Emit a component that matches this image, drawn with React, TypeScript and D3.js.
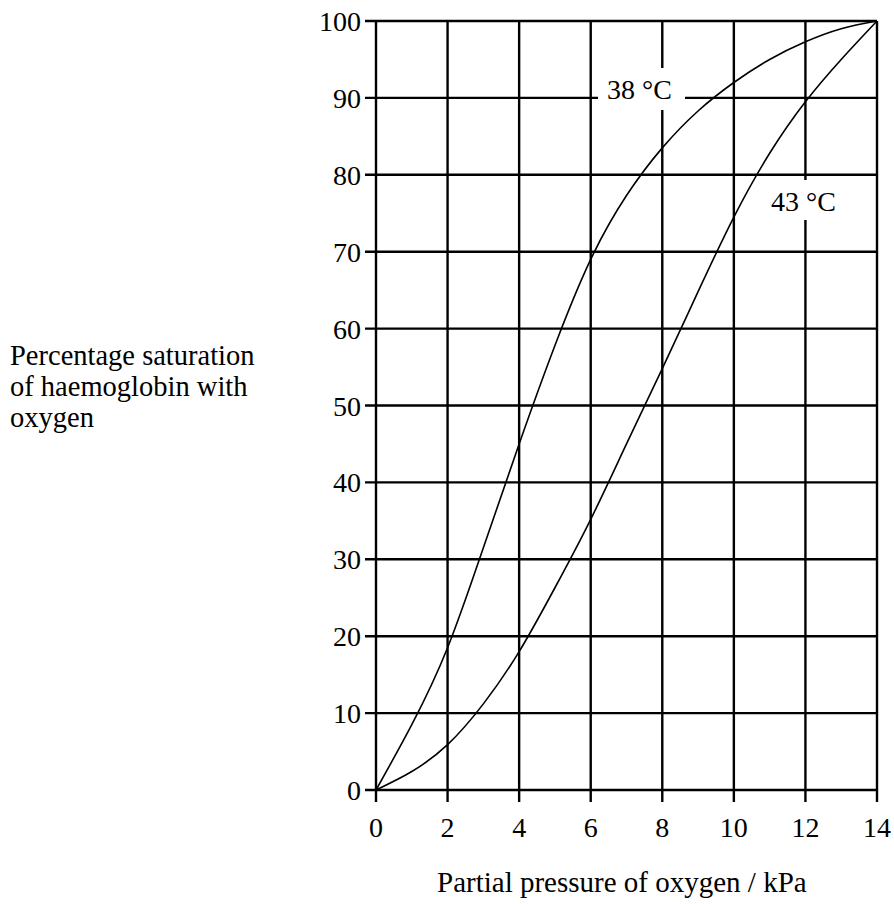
import { useRef, useEffect } from 'react';
import * as d3 from 'd3';

// partial pressure of oxygen (kPa)
const pressure = [0, 1, 2, 3, 4, 5, 6, 7, 8, 9, 10, 11, 12, 13, 14];
// % saturation
const sat38 = [0, 8.5, 18.5, 31.5, 45, 57.8, 69, 77.3, 83.5, 88.3, 92, 95, 97.3, 99, 100];
const sat43 = [0, 2.4, 5.9, 11.2, 18, 26.3, 35.2, 45, 54.8, 64.8, 74.5, 82.8, 89.5, 95, 100];

const xTicks = [0, 2, 4, 6, 8, 10, 12, 14];
const yTicks = [0, 10, 20, 30, 40, 50, 60, 70, 80, 90, 100];

const yLabelLines = ['Percentage saturation', 'of haemoglobin with', 'oxygen'];
const xLabel = 'Partial pressure of oxygen / kPa';

const FONT = '"Liberation Serif", "Times New Roman", serif';

export default function App() {
  const svgRef = useRef<SVGSVGElement>(null);
  const width = 894;
  const height = 904;

  useEffect(() => {
    if (!svgRef.current) return;
    const svg = d3.select(svgRef.current);
    svg.selectAll('*').remove();

    const x = d3.scaleLinear().domain([0, 14]).range([376, 877]);
    const y = d3.scaleLinear().domain([0, 100]).range([790, 21]);

    svg.append('rect').attr('width', width).attr('height', height).attr('fill', '#fff');

    // grid (includes the frame at 0/14 and 0/100), ticks stick out past the axes
    const grid = svg.append('g').attr('stroke', '#000').attr('stroke-width', 2.4);
    grid.selectAll('.v')
      .data(xTicks)
      .join('line')
      .attr('x1', (d) => x(d))
      .attr('x2', (d) => x(d))
      .attr('y1', y(100))
      .attr('y2', y(0) + 12);
    grid.selectAll('.h')
      .data(yTicks)
      .join('line')
      .attr('x1', x(0) - 11)
      .attr('x2', x(14))
      .attr('y1', (d) => y(d))
      .attr('y2', (d) => y(d));

    // tick labels
    svg.append('g')
      .selectAll('text')
      .data(yTicks)
      .join('text')
      .attr('x', x(0) - 15)
      .attr('y', (d) => y(d) + 10)
      .attr('text-anchor', 'end')
      .attr('font-family', FONT)
      .attr('font-size', 28)
      .text((d) => d);

    svg.append('g')
      .selectAll('text')
      .data(xTicks)
      .join('text')
      .attr('x', (d) => x(d))
      .attr('y', 837)
      .attr('text-anchor', 'middle')
      .attr('font-family', FONT)
      .attr('font-size', 28)
      .text((d) => d);

    // curves
    const line = d3
      .line<number>()
      .x((_, i) => x(pressure[i]))
      .y((d) => y(d))
      .curve(d3.curveNatural);

    [sat38, sat43].forEach((s) => {
      svg.append('path')
        .attr('d', line(s))
        .attr('fill', 'none')
        .attr('stroke', '#000')
        .attr('stroke-width', 1.6);
    });

    // curve labels, blanking the grid behind them
    const labels = [
      { text: '38 °C', x: 607, y: 99, box: [598, 68, 87, 42] },
      { text: '43 °C', x: 771, y: 211, box: [765, 180, 76, 40] },
    ];
    labels.forEach((l) => {
      svg.append('rect')
        .attr('x', l.box[0])
        .attr('y', l.box[1])
        .attr('width', l.box[2])
        .attr('height', l.box[3])
        .attr('fill', '#fff');
      svg.append('text')
        .attr('x', l.x)
        .attr('y', l.y)
        .attr('font-family', FONT)
        .attr('font-size', 28)
        .text(l.text);
    });

    // axis titles
    svg.append('text')
      .attr('x', 437)
      .attr('y', 892)
      .attr('font-family', FONT)
      .attr('font-size', 29)
      .text(xLabel);

    svg.append('g')
      .selectAll('text')
      .data(yLabelLines)
      .join('text')
      .attr('x', 10)
      .attr('y', (_, i) => 365 + i * 31)
      .attr('font-family', FONT)
      .attr('font-size', 28.5)
      .text((d) => d);
  }, []);

  return (
    <div style={{ position: 'absolute', left: 0, top: 0 }}>
      <svg ref={svgRef} width={width} height={height} viewBox={`0 0 ${width} ${height}`}></svg>
    </div>
  );
}
